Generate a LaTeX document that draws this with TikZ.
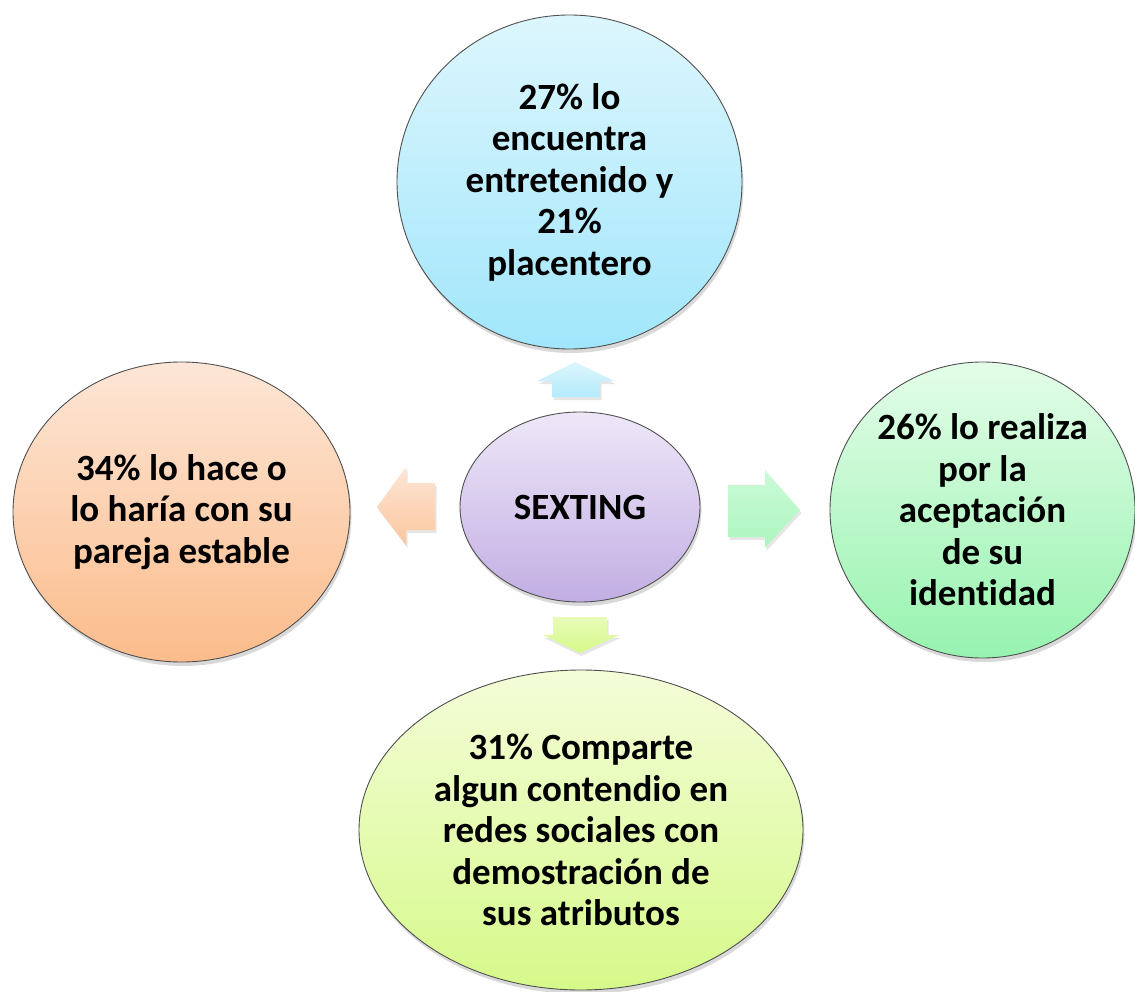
\documentclass[tikz,border=0pt]{standalone}
\usepackage{fontspec}
\setmainfont{Carlito}[Ligatures={NoCommon,NoRequired,NoContextual}]
\usetikzlibrary{shapes.geometric,shadows}
\definecolor{cyanT}{HTML}{DDF6FD}\definecolor{cyanB}{HTML}{A1E6FB}
\definecolor{lavT}{HTML}{EEE7F8}\definecolor{lavB}{HTML}{C2AEE3}
\definecolor{peachT}{HTML}{FDE6D6}\definecolor{peachB}{HTML}{FBBC8B}
\definecolor{mintT}{HTML}{E3FDE8}\definecolor{mintB}{HTML}{97F3AF}
\definecolor{limeT}{HTML}{F4FDD8}\definecolor{limeB}{HTML}{D6F98A}
\definecolor{rimgray}{HTML}{505050}
\tikzset{
  bubble/.style={ellipse, draw=rimgray, line width=0.9pt, shading=axis, shading angle=0,
    inner xsep=-40pt, inner ysep=-40pt, align=center,
    font=\fontsize{37}{41.5}\selectfont\bfseries,
    drop shadow={opacity=0.3, shadow xshift=1.5pt, shadow yshift=-4pt}},
  arrowshape/.style={shading=axis, shading angle=0, draw=none,
    drop shadow={opacity=0.2, shadow xshift=1.5pt, shadow yshift=-3pt}}
}
\begin{document}
\begin{tikzpicture}[x=1pt,y=-1pt]
\useasboundingbox (0,0) rectangle (1135,992);
% arrows
\path[arrowshape, top color=cyanT, bottom color=cyanB!80]
  (575,362) -- (614,381) -- (600,381) -- (600,397) -- (552,397) -- (552,381) -- (537,381) -- cycle;
\path[arrowshape, top color=peachT, bottom color=peachB!85]
  (377,507) -- (406,467) -- (406,483) -- (435,483) -- (435,530) -- (406,530) -- (406,545) -- cycle;
\path[arrowshape, top color=mintT!70!mintB, bottom color=mintB!80]
  (800,510) -- (765,470) -- (765,485) -- (728,485) -- (728,537) -- (765,537) -- (765,548) -- cycle;
\path[arrowshape, top color=limeT!60!limeB, bottom color=limeB]
  (580,653) -- (543,635) -- (553,635) -- (553,617) -- (607,617) -- (607,635) -- (619,635) -- cycle;
% bubbles
\node[bubble, top color=cyanT, bottom color=cyanB, minimum width=345pt, minimum height=334pt]
  (top) at (569.5,182) {27\% lo\\encuentra\\entretenido y\\21\%\\placentero};
\node[bubble, top color=lavT, bottom color=lavB, minimum width=240pt, minimum height=190pt]
  (center) at (580,507) {SEXTING};
\node[bubble, top color=peachT, bottom color=peachB, minimum width=337pt, minimum height=300pt]
  (left) at (181.5,512) {34\% lo hace o\\lo haría con su\\pareja estable};
\node[bubble, top color=mintT, bottom color=mintB, minimum width=305pt, minimum height=296pt]
  (right) at (982.5,510) {26\% lo realiza\\por la\\aceptación\\de su\\identidad};
\node[bubble, top color=limeT, bottom color=limeB, minimum width=444pt, minimum height=320pt]
  (bottom) at (581,830) {31\% Comparte\\algun contendio en\\redes sociales con\\demostración de\\sus atributos};
\end{tikzpicture}
\end{document}
